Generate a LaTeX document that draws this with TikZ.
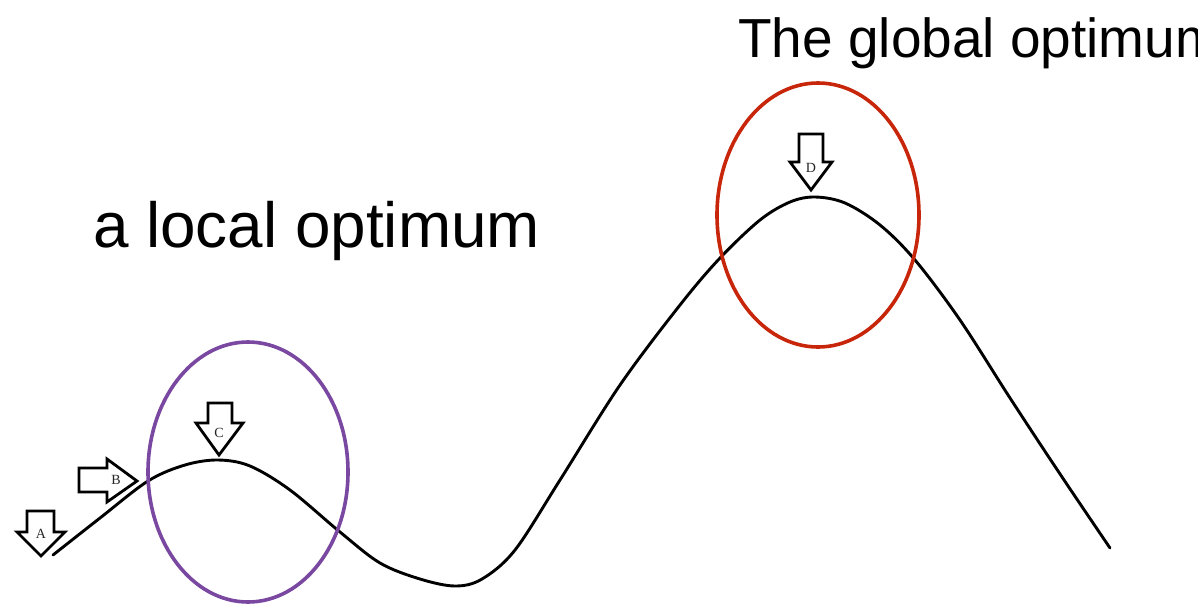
\documentclass[tikz,border=0pt]{standalone}
\usepackage{fontspec}
\setmainfont{Liberation Serif}
\newfontfamily\arialfont{Liberation Sans}
\definecolor{localpurple}{RGB}{122,72,160}
\definecolor{globalred}{RGB}{200,38,10}
\tikzset{
  curve/.style={line width=2.9pt, line cap=round, line join=round},
  ring/.style={line width=3.6pt},
  arrowbox/.style={draw=black, fill=white, line width=2.8pt, line join=miter},
  arrowlabel/.style={font=\fontsize{14}{14}\selectfont, text=black!85, inner sep=0pt},
  bigtext/.style={font=\arialfont\fontsize{63.8}{64}\selectfont, inner sep=0pt, anchor=base west},
  toptext/.style={font=\arialfont\fontsize{55}{55}\selectfont, inner sep=0pt, anchor=base west}
}
\begin{document}
\begin{tikzpicture}[x=1pt, y=-1pt]
\useasboundingbox (0,0) rectangle (1198,603);
\clip (0,0) rectangle (1198,603);
% landscape curve
\draw[curve] plot[smooth, tension=0.55] coordinates {
  (53,555) (100,518) (148,481) (185,465) (218,460) (250,466) (290,490)
  (340,532) (380,563) (420,579) (455,586) (482,579) (515,550) (560,480)
  (620,385) (680,305) (720,258) (760,220) (790,202) (815,197) (845,203)
  (880,225) (915,260) (960,320) (1010,398) (1060,474) (1110,548)};
% ellipses
\draw[ring, draw=localpurple] (248,472) ellipse [x radius=100, y radius=130];
\draw[ring, draw=globalred] (818,215) ellipse [x radius=101, y radius=132];
% arrows
\draw[arrowbox] (27,511) -- (54,511) -- (54,532) -- (65,532) -- (41,556) -- (17,532) -- (27,532) -- cycle;
\node[arrowlabel] (la) at (41,534) {A};
\draw[arrowbox] (79,468) -- (107,468) -- (107,459) -- (137,481) -- (107,502) -- (107,492) -- (79,492) -- cycle;
\node[arrowlabel] (lb) at (116,480) {B};
\draw[arrowbox] (208,403) -- (232,403) -- (232,423) -- (243,423) -- (219,455) -- (196,423) -- (208,423) -- cycle;
\node[arrowlabel] (lc) at (219,433) {C};
\draw[arrowbox] (799,134) -- (823,134) -- (823,162) -- (832,162) -- (811,190) -- (790,162) -- (799,162) -- cycle;
\node[arrowlabel] (ld) at (811,168) {D};
% texts
\node[bigtext] (tlocal) at (93,247) {a local optimum};
\node[toptext] (tglobal) at (738,57) {The global optimum};
\end{tikzpicture}
\end{document}
